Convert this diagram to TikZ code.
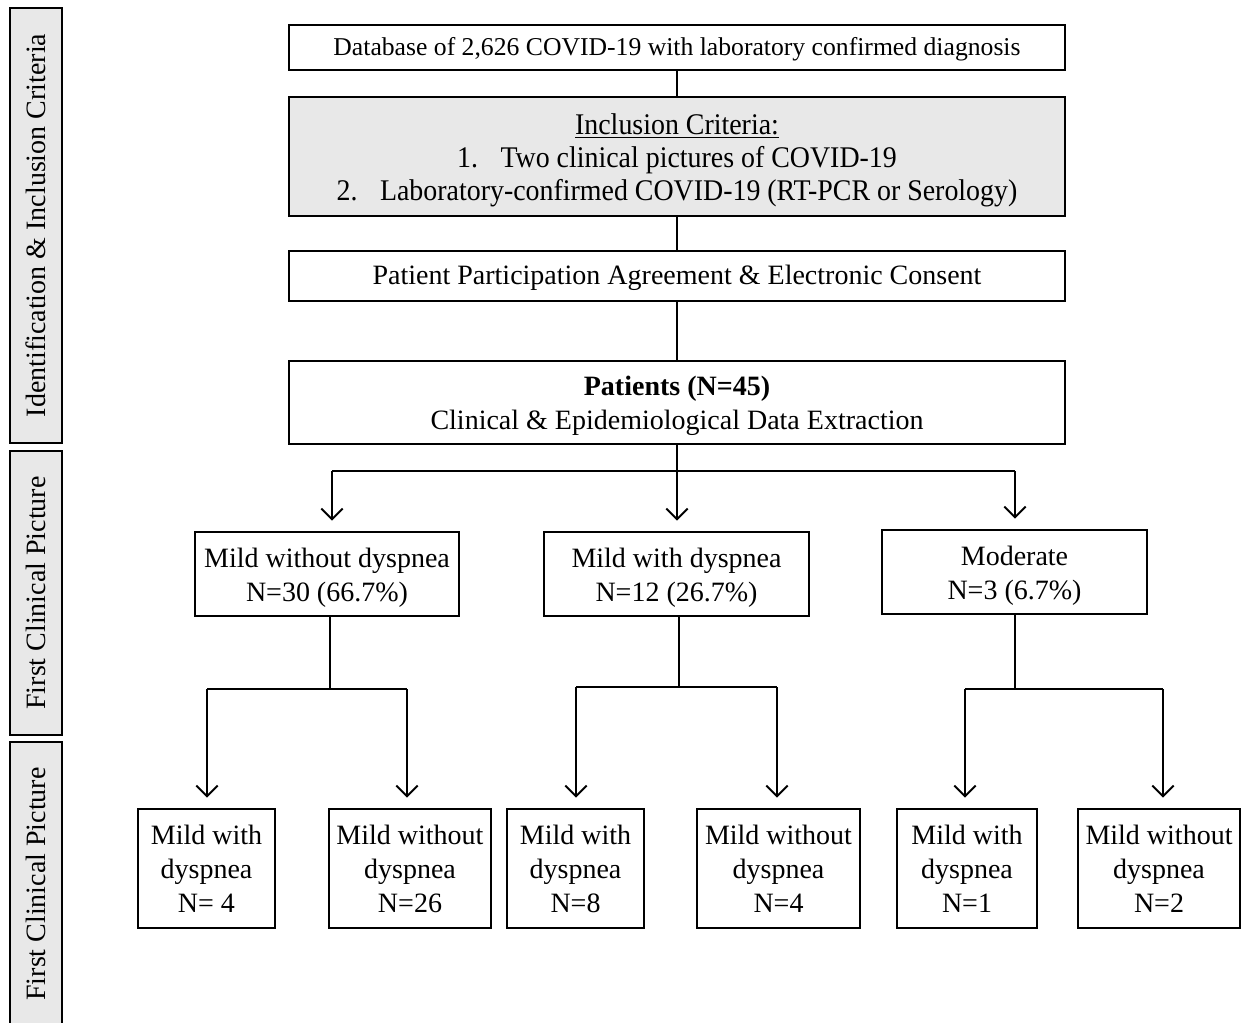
\documentclass[tikz,border=0pt]{standalone}
\usepackage{fontspec}
\setmainfont{Liberation Serif}
\newfontfamily\condfont[FakeStretch=0.93]{Liberation Serif}
\usetikzlibrary{arrows.meta}
\newdimen\pxu \pxu=0.75pt
\definecolor{boxgray}{HTML}{E8E8E8}
\begin{document}
\begin{tikzpicture}[x=0.75pt,y=-0.75pt,
  box/.style={draw=black, line width=1.1pt, inner sep=0pt, align=center,
    font=\fontsize{21}{25.5}\selectfont},
  side/.style={box, fill=boxgray, minimum height=52\pxu, rotate=90},
  conn/.style={line width=1.5pt, draw=black},
  arr/.style={conn, -{Straight Barb[length=8pt,width=16pt,line width=1.5pt]}, shorten >=8pt}
]
\useasboundingbox (0,0) rectangle (1248,1023);
\clip (0,0) rectangle (1248,1023);

% side labels
\node[side, minimum width=435\pxu] (s1) at (36,225.5) {Identification \& Inclusion Criteria};
\node[side, minimum width=284\pxu] (s2) at (36,593) {First Clinical Picture};
\node[side, minimum width=284\pxu] (s3) at (36,884) {First Clinical Picture};

% top chain
\node[box, minimum width=776\pxu, minimum height=45\pxu, font=\fontsize{19.25}{23}\selectfont] (db) at (677,47.5)
  {\rule{0pt}{16pt}Database of 2,626 COVID-19 with laboratory confirmed diagnosis};
\node[box, fill=boxgray, minimum width=776\pxu, minimum height=119\pxu, font=\condfont\fontsize{22.5}{24.75}\selectfont] (incl) at (677,156.5)
  {\rule{0pt}{21.5pt}\underline{Inclusion Criteria:}\\1.\hspace{0.75em}Two clinical pictures of COVID-19\\2.\hspace{0.75em}Laboratory-confirmed COVID-19 (RT-PCR or Serology)};
\node[box, minimum width=776\pxu, minimum height=50\pxu, font=\fontsize{21}{25.5}\selectfont] (cons) at (677,276)
  {\rule{0pt}{17pt}Patient Participation Agreement \& Electronic Consent};
\node[box, minimum width=776\pxu, minimum height=83\pxu, font=\fontsize{21}{25.5}\selectfont] (pat) at (677,402.5)
  {\rule{0pt}{19pt}\textbf{Patients (N=45)}\\Clinical \& Epidemiological Data Extraction};

% middle level
\node[box, minimum width=264\pxu, minimum height=84\pxu] (m1) at (327,574) {\rule{0pt}{20.5pt}Mild without dyspnea\\N=30 (66.7\%)};
\node[box, minimum width=265\pxu, minimum height=84\pxu] (m2) at (676.5,574) {\rule{0pt}{20.5pt}Mild with dyspnea\\N=12 (26.7\%)};
\node[box, minimum width=265\pxu, minimum height=84\pxu] (m3) at (1014.5,572) {\rule{0pt}{20.5pt}Moderate\\N=3 (6.7\%)};

% bottom level
\node[box, minimum width=137\pxu, minimum height=119\pxu] (b1) at (206.5,868.5) {Mild with\\dyspnea\\N= 4};
\node[box, minimum width=162\pxu, minimum height=119\pxu] (b2) at (410,868.5) {Mild without\\dyspnea\\N=26};
\node[box, minimum width=137\pxu, minimum height=119\pxu] (b3) at (575.5,868.5) {Mild with\\dyspnea\\N=8};
\node[box, minimum width=163\pxu, minimum height=119\pxu] (b4) at (778.5,868.5) {Mild without\\dyspnea\\N=4};
\node[box, minimum width=140\pxu, minimum height=119\pxu] (b5) at (967,868.5) {Mild with\\dyspnea\\N=1};
\node[box, minimum width=162\pxu, minimum height=119\pxu] (b6) at (1159,868.5) {Mild without\\dyspnea\\N=2};

% top connectors
\draw[conn] (db) -- (incl);
\draw[conn] (incl) -- (cons);
\draw[conn] (cons) -- (pat);

% split from patients
\coordinate (j0) at (677,471);
\coordinate (j0a) at (332,471);
\coordinate (j0b) at (1015,471);
\draw[conn] (pat.south) -- (j0);
\draw[conn] (j0a) -- (j0b);
\draw[arr] (j0a) -- (j0a |- m1.north);
\draw[arr] (j0) -- (j0 |- m2.north);
\draw[arr] (j0b) -- (j0b |- m3.north);

% split from m1
\coordinate (k1) at (330,689);
\coordinate (k1a) at (207,689);
\coordinate (k1b) at (407,689);
\draw[conn] (k1 |- m1.south) -- (k1);
\draw[conn] (k1a) -- (k1b);
\draw[arr] (k1a) -- (k1a |- b1.north);
\draw[arr] (k1b) -- (k1b |- b2.north);

% split from m2
\coordinate (k2) at (679,687);
\coordinate (k2a) at (576,687);
\coordinate (k2b) at (777,687);
\draw[conn] (k2 |- m2.south) -- (k2);
\draw[conn] (k2a) -- (k2b);
\draw[arr] (k2a) -- (k2a |- b3.north);
\draw[arr] (k2b) -- (k2b |- b4.north);

% split from m3
\coordinate (k3) at (1015,689);
\coordinate (k3a) at (965,689);
\coordinate (k3b) at (1163,689);
\draw[conn] (k3 |- m3.south) -- (k3);
\draw[conn] (k3a) -- (k3b);
\draw[arr] (k3a) -- (k3a |- b5.north);
\draw[arr] (k3b) -- (k3b |- b6.north);
\end{tikzpicture}
\end{document}
